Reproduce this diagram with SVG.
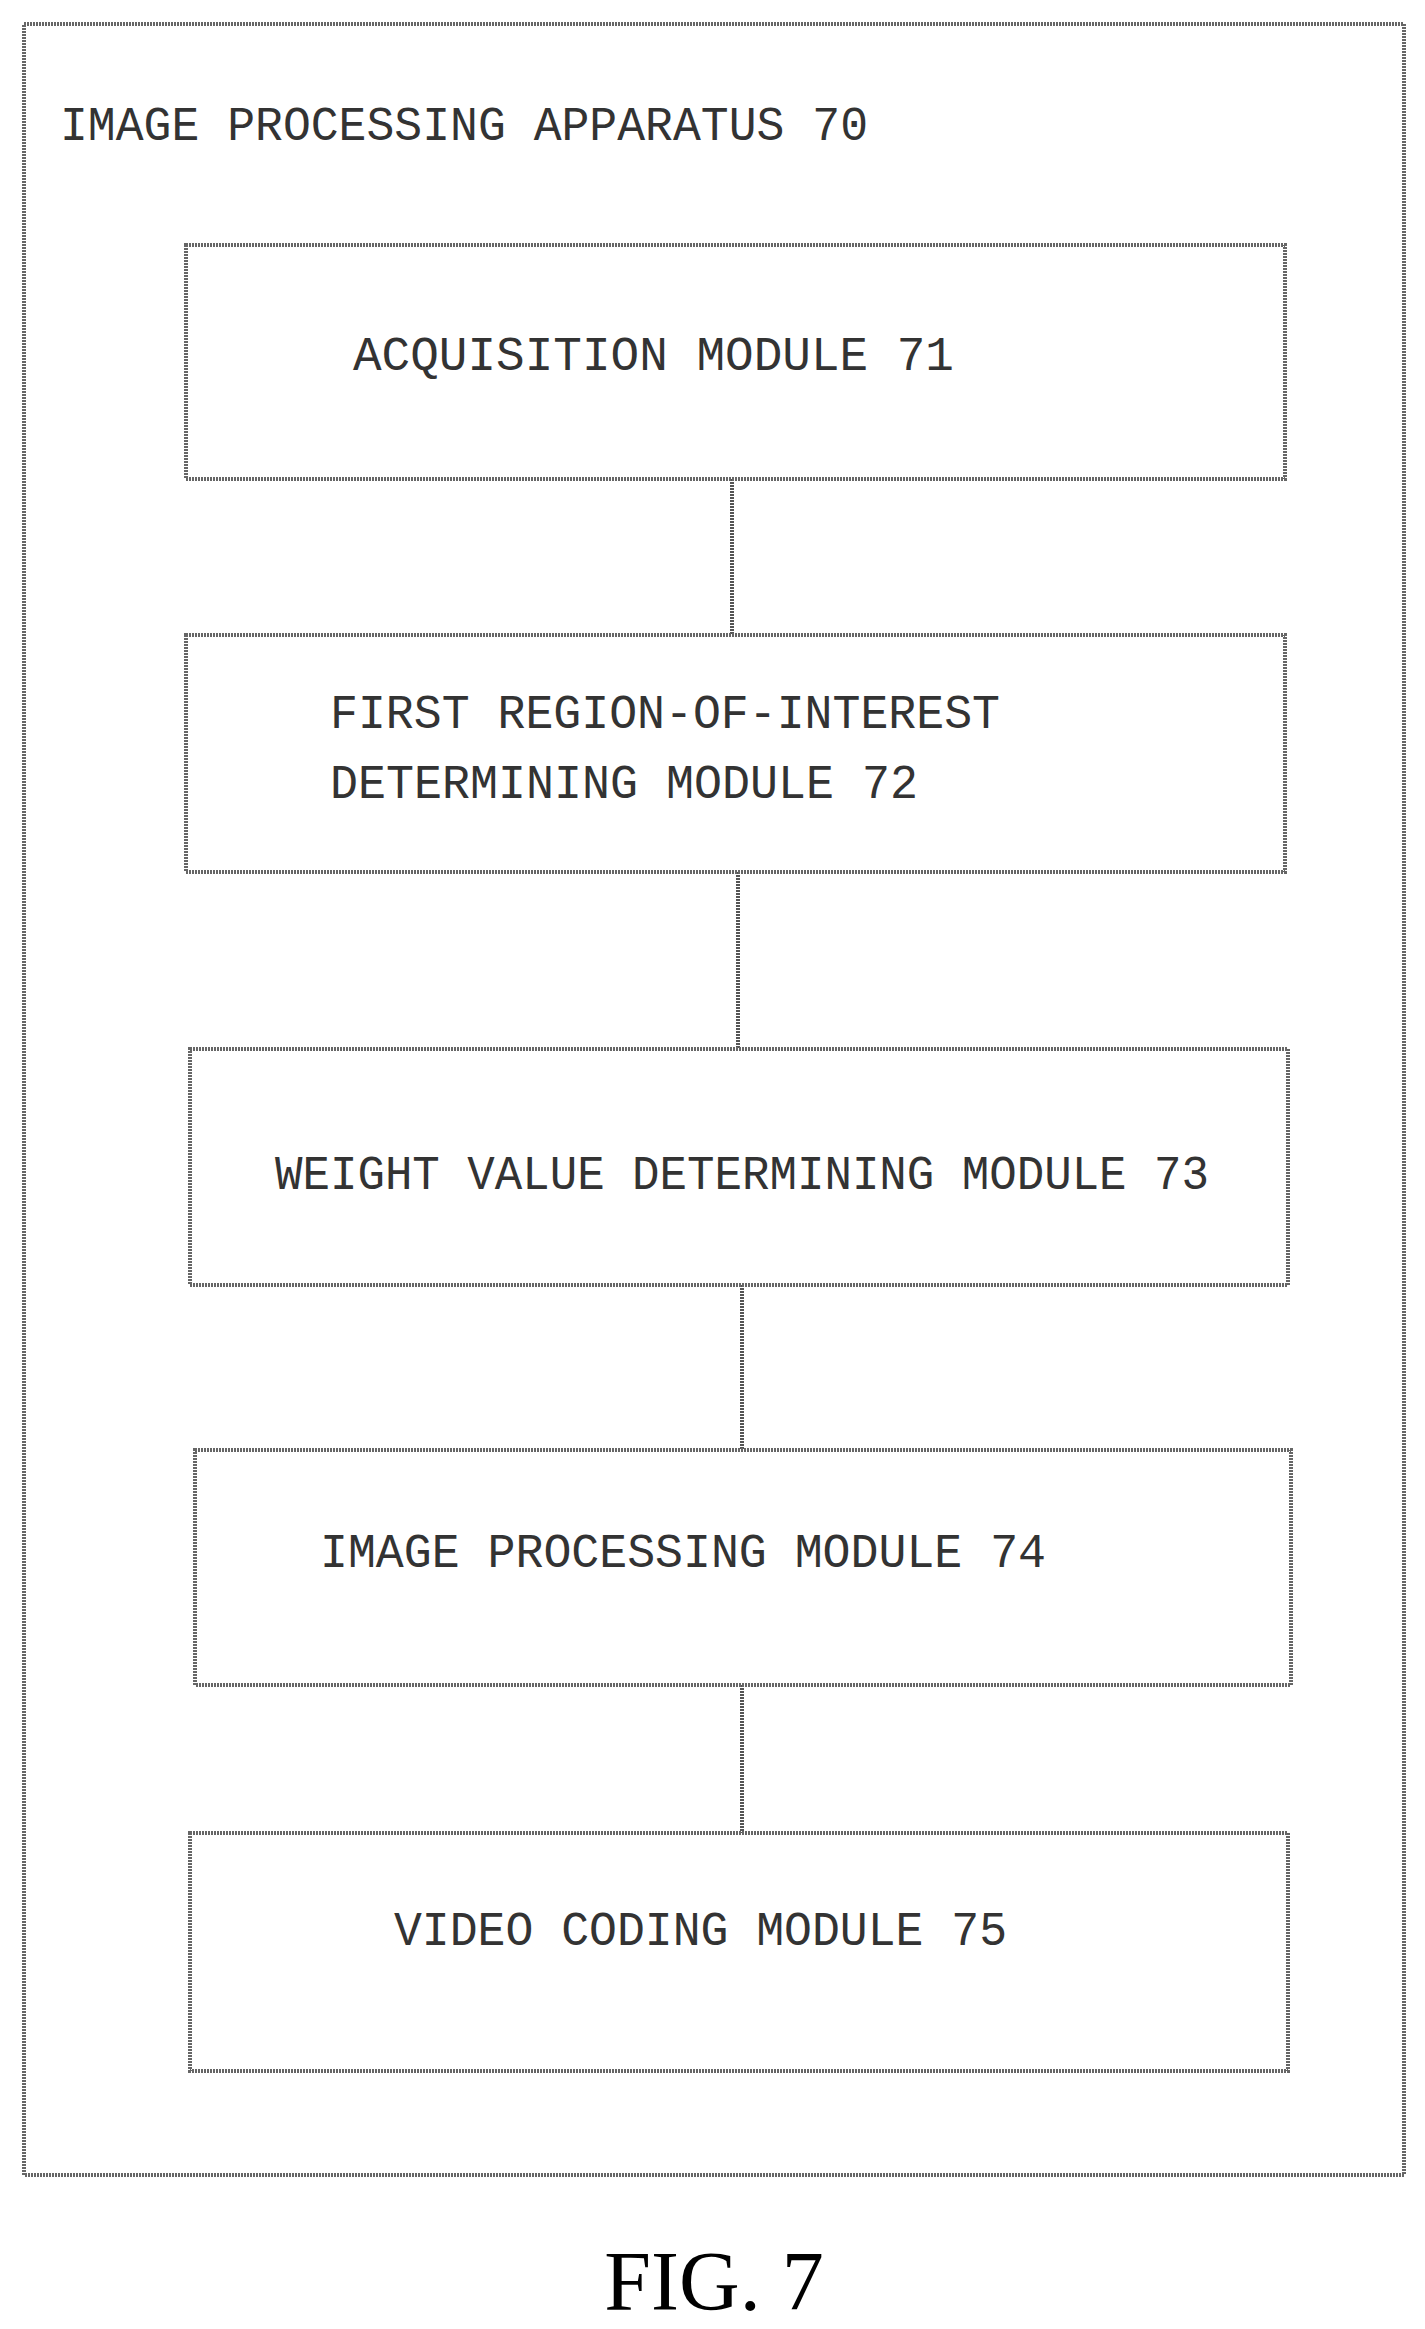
<svg xmlns="http://www.w3.org/2000/svg" width="1425" height="2329" viewBox="0 0 1425 2329">
<style>
.b{fill:#fff;stroke:#666;stroke-width:4;stroke-dasharray:2 1}
.t{font-family:"Liberation Mono",monospace;font-size:48px;fill:#333}
.c{stroke:#555;stroke-width:4;stroke-dasharray:2 1}
</style>
<rect width="1425" height="2329" fill="#fff"/>
<g id="apparatus"><rect class="b" x="24" y="24" width="1380" height="2151"/>
<text class="t" x="60" y="140" textLength="808" lengthAdjust="spacingAndGlyphs">IMAGE PROCESSING APPARATUS 70</text></g>
<g id="connectors">
<line class="c" x1="732" y1="479" x2="732" y2="635"/>
<line class="c" x1="738" y1="872" x2="738" y2="1049"/>
<line class="c" x1="742" y1="1285" x2="742" y2="1450"/>
<line class="c" x1="742" y1="1685" x2="742" y2="1833"/>
</g>
<g id="m71"><rect class="b" x="186" y="245" width="1099" height="234"/>
<text class="t" x="353" y="370" textLength="601" lengthAdjust="spacingAndGlyphs">ACQUISITION MODULE 71</text></g>
<g id="m72"><rect class="b" x="186" y="635" width="1099" height="237"/>
<text class="t" x="330" y="728" textLength="670" lengthAdjust="spacingAndGlyphs">FIRST REGION-OF-INTEREST</text>
<text class="t" x="330" y="798" textLength="588" lengthAdjust="spacingAndGlyphs">DETERMINING MODULE 72</text></g>
<g id="m73"><rect class="b" x="190" y="1049" width="1098" height="236"/>
<text class="t" x="275" y="1189" textLength="934" lengthAdjust="spacingAndGlyphs">WEIGHT VALUE DETERMINING MODULE 73</text></g>
<g id="m74"><rect class="b" x="195" y="1450" width="1096" height="235"/>
<text class="t" x="320" y="1567" textLength="726" lengthAdjust="spacingAndGlyphs">IMAGE PROCESSING MODULE 74</text></g>
<g id="m75"><rect class="b" x="190" y="1833" width="1098" height="238"/>
<text class="t" x="394" y="1945" textLength="613" lengthAdjust="spacingAndGlyphs">VIDEO CODING MODULE 75</text></g>
<text x="714" y="2310" text-anchor="middle" font-family="Liberation Serif,serif" font-size="84" fill="#000">FIG. 7</text>
</svg>
